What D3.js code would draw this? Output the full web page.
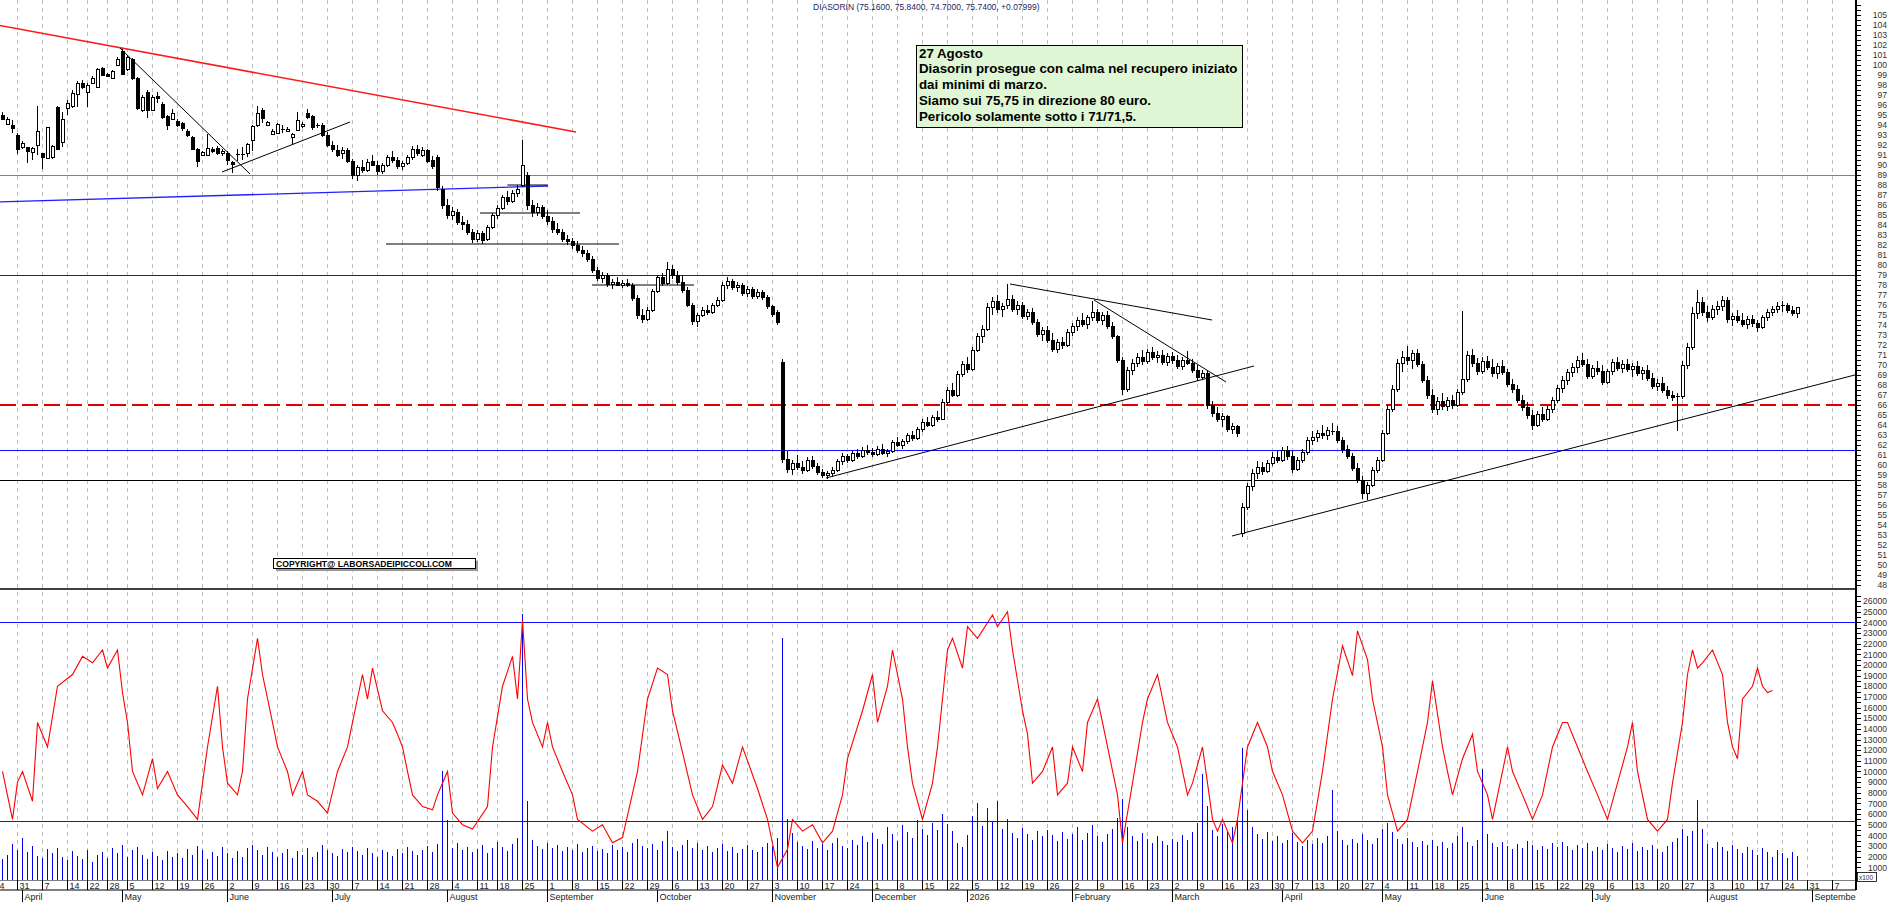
<!DOCTYPE html>
<html>
<head>
<meta charset="utf-8">
<script src="https://cdn.jsdelivr.net/npm/d3@7/dist/d3.min.js"></script>
<style>
html,body{margin:0;padding:0;background:#fff;overflow:hidden;}
svg{display:block;font-family:"Liberation Sans",Arial,Helvetica,sans-serif;}
</style>
</head>
<body>
<svg id="chart" width="1890" height="902"></svg>
<script>
// ---------------- DATA ----------------
const title = "DIASORIN (75.1600, 75.8400, 74.7000, 75.7400, +0.07999)";
const noteLines = [
  "27 Agosto",
  "Diasorin prosegue con calma nel recupero iniziato",
  "dai minimi di marzo.",
  "Siamo sui 75,75 in direzione 80 euro.",
  "Pericolo solamente sotto i 71/71,5."
];
const copyrightText = "COPYRIGHT@ LABORSADEIPICCOLI.COM";
const volumeUnitLabel = "x100";

const holidays = ["2025-04-18","2025-04-21","2025-05-01","2025-08-15","2025-12-24","2025-12-25","2025-12-26","2025-12-31","2026-01-01","2026-04-03","2026-04-06","2026-05-01"];
const calendarStart = "2025-03-24";
const calendarEnd = "2026-09-11";
const firstDataDate = "2025-03-26";
const monthNames = ["January","February","March","April","May","June","July","August","September","October","November","December"];

const opens = [
95.0,94.1,94.0,93.0,91.8,91.8,91.3,92.0,91.2,90.7,
90.8,95.8,92.3,95.7,95.9,97.1,98.2,97.3,98.2,97.8,
99.7,99.1,98.7,100.0,101.4,99.6,100.6,98.7,95.5,97.3,
95.5,96.9,96.1,94.9,94.6,94.4,94.2,93.4,92.8,91.6,
91.0,91.0,91.6,91.7,91.2,91.2,90.3,91.1,91.1,91.2,
92.5,94.0,95.5,94.0,93.1,93.2,93.6,93.4,92.8,93.5,
93.9,95.2,94.9,94.0,94.0,93.0,92.0,91.5,91.2,91.5,
90.4,89.0,89.8,89.5,90.4,90.0,89.4,90.0,90.8,90.5,
89.9,90.2,90.8,91.6,91.0,91.5,90.5,90.8,87.6,86.0,
85.0,85.3,84.3,84.1,83.3,82.6,83.2,82.6,83.8,85.0,
85.7,86.8,86.4,87.2,88.0,89.0,86.0,85.3,85.8,84.9,
84.4,83.6,83.3,82.6,82.4,82.0,81.5,81.2,80.6,79.5,
78.7,79.0,78.1,78.3,78.0,78.2,78.0,76.7,75.0,74.6,
75.5,77.4,78.8,78.2,79.6,79.0,78.3,77.5,76.0,74.4,
75.0,75.5,75.3,76.0,76.5,78.0,78.4,77.8,78.0,77.2,
77.6,76.9,77.3,76.8,75.9,75.3,70.3,60.6,59.6,60.2,
59.8,59.5,60.5,59.9,59.3,59.0,59.2,59.5,60.4,60.9,
60.5,61.2,60.9,61.5,61.3,61.1,61.6,61.2,61.4,62.3,
62.0,62.4,63.0,62.7,63.6,64.3,64.0,64.8,64.6,66.3,
67.5,67.0,69.1,70.1,69.6,71.5,72.9,73.6,75.8,76.4,
75.6,76.0,76.6,75.6,76.0,74.9,75.3,74.3,73.1,73.5,
72.5,71.6,72.3,72.0,73.3,73.9,74.5,74.1,74.8,75.3,
74.5,75.0,73.9,72.9,70.5,67.6,69.5,70.2,70.8,70.4,
71.3,70.8,71.0,70.3,70.9,70.5,69.9,70.5,70.2,69.5,
68.8,69.2,66.0,65.2,64.6,64.9,63.6,63.9,53.2,55.8,
57.9,59.2,59.8,59.4,60.2,60.8,60.5,61.5,60.9,59.6,
60.5,61.3,62.5,62.8,63.2,63.0,63.5,63.4,62.5,61.6,
60.9,59.7,58.5,57.2,58.0,59.5,60.5,63.2,65.6,67.6,
70.2,70.8,70.5,71.2,70.1,68.5,67.0,65.6,66.4,65.9,
66.5,66.0,67.3,68.6,71.0,70.2,69.4,70.4,69.8,69.2,
69.9,69.3,68.1,67.6,66.5,65.8,65.0,64.0,65.1,64.6,
65.6,66.5,67.7,68.5,69.3,69.8,70.5,70.1,68.9,69.7,
69.4,68.3,69.4,70.3,69.7,70.1,69.6,69.9,69.2,69.5,
68.7,67.9,68.2,67.5,67.0,66.8,66.9,70.0,71.8,75.2,
76.3,75.3,74.8,75.6,75.9,76.5,74.6,74.9,74.5,74.1,
74.6,74.2,73.8,74.8,75.3,75.6,75.9,76.0,75.5,75.16
];
const highs = [
95.3,94.8,94.5,93.2,92.4,91.8,91.8,95.9,91.2,93.8,
92.0,95.9,95.3,96.5,97.5,98.4,98.5,98.2,98.9,99.7,
99.8,99.2,99.5,100.8,101.6,101.0,100.7,98.8,97.0,97.5,
97.0,97.3,96.3,95.0,95.6,94.6,94.3,93.6,92.9,91.7,
91.4,93.1,91.8,91.9,91.6,91.4,90.4,91.6,91.8,92.2,
94.0,95.9,95.7,94.4,93.6,94.2,94.0,93.8,93.2,95.3,
94.3,95.6,95.0,94.2,94.2,93.3,92.4,92.0,91.8,91.7,
90.6,90.0,90.5,90.6,91.0,90.4,90.2,91.0,91.4,90.8,
90.4,91.0,91.9,92.0,91.8,91.6,90.9,91.0,87.9,86.6,
85.8,85.6,84.9,84.5,83.6,83.5,83.4,84.0,85.2,86.0,
87.0,87.4,87.5,88.0,92.5,89.3,86.5,86.2,86.0,85.5,
84.8,84.2,83.6,83.0,82.7,82.4,81.9,81.5,80.9,79.8,
79.3,79.2,78.6,78.8,78.5,78.6,78.2,77.0,75.6,75.8,
77.6,79.0,79.2,80.3,80.0,79.4,78.9,77.8,76.2,75.2,
75.8,76.0,76.2,76.8,78.3,78.8,78.6,78.3,78.2,77.9,
77.8,77.6,77.5,77.0,76.0,75.5,70.6,61.4,60.5,61.0,
60.4,60.8,60.9,60.2,59.6,59.4,59.8,60.6,61.2,61.1,
61.4,61.6,61.8,62.0,61.7,61.9,62.1,61.6,62.5,62.8,
62.6,63.2,63.4,63.8,64.6,64.8,65.0,65.4,66.6,67.8,
68.2,69.4,70.4,70.8,71.8,73.2,74.0,76.2,76.8,77.0,
76.2,78.1,77.0,76.4,76.3,75.6,75.7,74.6,73.8,73.9,
73.2,72.6,72.8,73.6,74.2,74.8,75.2,75.0,76.4,75.6,
75.3,75.4,74.3,73.0,70.8,69.8,70.6,71.2,71.5,71.6,
71.8,71.4,71.5,71.2,71.3,71.0,70.8,71.4,70.6,70.0,
69.5,69.4,66.4,65.8,65.2,65.0,64.2,64.0,56.2,58.2,
59.6,60.4,60.3,60.5,61.3,61.5,61.8,61.9,61.4,60.8,
61.6,62.8,63.4,63.5,64.0,63.8,64.2,63.9,62.8,62.0,
61.2,60.2,58.9,58.3,59.8,60.8,63.5,66.0,68.0,70.6,
71.4,71.9,71.5,71.6,70.4,68.9,67.6,66.8,67.2,66.8,
67.0,67.6,75.4,71.4,71.6,70.7,70.8,70.9,70.6,70.2,
70.5,69.6,68.6,68.0,67.0,66.3,65.5,65.4,65.8,65.9,
66.8,68.0,68.9,69.6,70.2,70.9,71.2,70.6,70.0,70.4,
70.0,69.6,70.6,70.8,70.5,70.6,70.2,70.4,69.8,70.0,
69.2,68.6,68.8,67.9,67.4,67.2,70.4,72.2,75.8,77.5,
76.8,75.9,76.0,76.4,76.9,76.8,75.2,75.5,75.2,74.9,
75.0,74.5,75.0,75.6,75.9,76.3,76.4,76.2,75.9,75.84
];
const lows = [
94.5,94.0,93.2,91.1,91.6,90.2,90.5,91.0,89.6,90.7,
90.6,91.6,91.8,95.0,95.7,95.8,97.6,95.8,98.1,97.8,
98.9,98.8,98.6,99.9,99.0,99.4,98.5,95.5,95.3,94.7,
95.4,96.2,94.6,93.5,94.5,93.8,93.4,92.8,91.5,89.8,
90.9,90.9,91.2,91.0,90.9,90.0,89.2,90.4,90.5,90.8,
91.4,93.8,94.2,93.9,93.0,93.1,93.2,93.3,92.0,93.4,
93.7,94.6,93.5,93.7,92.8,91.8,91.3,90.8,90.6,90.2,
88.6,88.4,89.2,89.3,89.9,89.0,89.1,89.8,90.2,89.6,
89.5,90.0,90.5,90.9,90.8,90.2,89.6,87.4,85.6,84.6,
84.5,84.0,83.5,83.0,82.2,82.3,82.1,82.4,83.6,84.6,
85.5,86.0,86.2,86.8,87.8,85.5,84.8,84.9,84.6,84.0,
83.2,83.0,82.3,82.0,81.6,81.2,80.8,80.3,79.2,78.4,
78.2,77.8,77.6,77.9,77.7,77.8,76.4,74.6,74.2,74.4,
75.3,77.2,77.9,78.0,78.6,78.0,77.2,75.8,74.0,73.8,
74.8,75.0,75.1,75.8,76.3,77.6,77.5,77.3,76.9,76.8,
76.6,76.6,76.5,75.6,74.8,74.0,60.2,59.2,59.0,59.5,
59.1,59.3,59.6,59.0,58.7,58.6,58.8,59.3,60.0,60.2,
60.3,60.6,60.7,61.0,60.8,60.9,61.0,60.8,61.2,61.8,
61.6,62.1,62.4,62.5,63.3,63.8,63.8,64.3,64.5,66.0,
66.8,66.8,68.8,69.2,69.4,71.3,72.2,73.4,75.0,75.2,
74.8,75.6,75.3,75.0,74.6,74.5,74.0,72.8,72.4,72.2,
71.3,71.2,71.6,71.8,72.9,73.4,73.8,73.6,74.4,74.2,
74.0,73.6,72.6,70.2,67.0,67.3,69.0,69.8,70.0,70.1,
70.5,70.2,70.0,69.9,70.1,69.6,69.5,70.0,69.2,68.4,
68.5,65.6,64.8,64.3,63.8,63.3,63.1,62.8,52.8,55.5,
57.4,58.6,59.0,59.2,59.9,60.2,60.3,60.5,59.2,59.4,
60.2,61.0,62.0,62.3,62.6,62.5,63.0,62.2,61.2,60.6,
59.4,58.2,56.6,56.5,57.8,59.2,60.3,63.0,65.3,67.3,
69.3,70.0,69.6,69.8,68.2,66.6,65.2,65.0,65.5,65.4,
65.6,65.8,67.0,68.3,69.8,69.0,69.1,69.5,68.8,68.6,
69.0,67.8,67.2,66.2,65.4,64.6,63.5,63.8,64.3,64.4,
65.2,66.2,67.2,68.0,68.8,69.2,69.8,68.6,68.6,69.0,
68.0,68.1,69.0,69.4,69.2,69.3,68.8,68.9,68.5,68.4,
67.6,67.4,67.2,66.6,66.4,63.4,66.6,69.6,71.5,74.6,
74.9,74.3,74.5,75.0,75.4,74.2,73.9,74.2,73.8,73.6,
73.8,73.3,73.6,74.4,74.9,75.2,75.3,75.2,74.9,74.70
];
const closes = [
94.6,94.6,93.7,91.6,92.2,91.4,91.7,93.4,90.8,93.8,
91.9,91.6,94.6,96.2,97.2,98.2,97.8,98.0,98.7,99.6,
99.0,98.9,99.4,100.6,99.1,100.8,98.7,95.7,96.8,95.5,
96.8,96.7,94.8,94.0,95.2,94.0,93.7,93.0,91.6,90.4,
91.3,91.7,91.4,91.2,91.4,90.5,90.1,91.1,91.1,92.1,
93.9,95.2,94.7,94.3,93.4,94.1,93.6,93.6,93.1,94.5,
94.1,94.8,93.8,94.0,93.0,92.0,91.6,91.0,91.5,90.4,
89.0,89.8,89.5,90.3,90.0,89.4,90.0,90.8,90.5,89.9,
90.2,90.8,91.6,91.2,91.5,90.4,89.9,87.8,86.0,85.0,
85.4,84.3,84.1,83.3,82.6,83.2,82.5,83.8,85.0,85.7,
86.8,86.4,87.2,87.6,90.0,86.0,85.3,85.8,84.9,84.4,
83.6,83.3,82.6,82.4,82.0,81.5,81.2,80.6,79.5,78.7,
79.0,78.1,78.3,78.0,78.2,78.0,76.7,75.0,74.6,75.5,
77.4,78.8,78.2,79.6,79.0,78.3,77.5,76.0,74.4,75.0,
75.5,75.3,76.0,76.5,78.0,78.4,77.8,78.0,77.2,77.6,
76.9,77.3,76.8,75.9,75.1,74.3,60.6,59.6,60.2,59.8,
59.5,60.5,59.9,59.3,59.0,59.2,59.5,60.4,60.9,60.5,
61.2,60.9,61.5,61.3,61.1,61.6,61.2,61.4,62.3,62.0,
62.4,63.0,62.7,63.6,64.3,64.0,64.8,64.6,66.3,67.5,
67.0,69.1,70.1,69.6,71.5,72.9,73.6,75.8,76.4,75.6,
75.9,76.6,75.6,76.0,74.9,75.3,74.3,73.1,73.5,72.5,
71.6,72.3,72.0,73.3,73.9,74.5,74.1,74.8,75.3,74.5,
75.0,73.9,72.9,70.5,67.6,69.5,70.2,70.8,70.4,71.3,
70.8,71.0,70.3,70.9,70.5,69.9,70.5,70.2,69.5,68.8,
69.2,66.0,65.2,64.6,64.9,63.6,63.9,63.2,55.8,57.9,
59.2,59.8,59.4,60.2,60.8,60.5,61.5,60.9,59.6,60.5,
61.3,62.5,62.8,63.2,63.0,63.5,63.4,62.5,61.6,60.9,
59.7,58.5,57.2,58.0,59.5,60.5,63.2,65.6,67.6,70.2,
70.8,70.5,71.2,70.1,68.5,67.0,65.6,66.4,65.9,66.5,
66.0,67.3,68.6,71.0,70.2,69.4,70.4,69.8,69.2,69.9,
69.3,68.1,67.6,66.5,65.8,65.0,64.0,65.1,64.6,65.6,
66.5,67.7,68.5,69.3,69.8,70.5,70.1,68.9,69.7,69.4,
68.3,69.4,70.3,69.7,70.1,69.6,69.9,69.2,69.5,68.7,
67.9,68.2,67.5,67.0,66.8,66.9,70.0,71.8,75.2,76.3,
75.3,74.8,75.6,75.9,76.5,74.6,74.9,74.5,74.1,74.6,
74.2,73.8,74.8,75.3,75.6,75.9,76.0,75.5,75.2,75.74
];
const volumes = [
1800,2200,3200,2600,3800,2400,3000,2100,1900,2700,
2300,2800,2000,1700,2500,2100,1800,2600,1500,2200,
2400,1900,2800,2300,3100,2000,2600,2900,2200,1800,
2400,2100,1700,2500,2000,2300,1900,2700,2200,3000,
2600,1800,2400,2100,2900,2300,1900,2500,2000,2800,
3100,2600,2200,2900,2400,2000,2300,2700,1900,2500,
2200,2800,2000,2400,3100,2600,2300,2100,2700,2400,
2900,2500,2200,2800,2300,2000,2600,2400,2100,2700,
2300,2900,2500,2200,2600,3000,2400,3200,10000,5400,
2800,3300,2600,2900,2400,2700,3100,2300,2800,3400,
2900,2500,3200,3800,24800,7200,3600,3000,2700,3300,
2800,3100,2500,2900,2600,3200,2400,2800,3000,2500,
2700,2300,3100,2600,2900,2400,3300,3700,3000,2800,
3200,2600,3500,4400,2900,2500,3100,3600,2800,3300,
2600,3000,2400,2800,3200,2500,2900,2300,2700,3100,
2600,2400,2900,3300,3000,3800,22500,5500,4200,3400,
3000,2700,3500,2800,3200,2600,3300,3800,3000,2800,
3600,3100,3900,3400,4200,3700,3200,4800,4100,3500,
5000,4300,3800,5400,4600,4000,5200,4500,6000,5100,
4400,3300,2900,4000,5800,7000,4900,6600,5300,7200,
4600,5500,4200,3800,4700,4100,3600,4400,3900,4500,
4000,3500,4300,3700,4100,4800,3600,4200,5000,3900,
3400,4100,4600,5600,7400,4800,3900,3500,4200,3700,
3300,3900,3500,3100,3700,3400,4000,3600,4300,5200,
9800,6800,4500,3900,5100,4300,4800,5600,12200,6400,
4800,4100,3700,4300,3500,3900,3300,3600,4200,3400,
3000,3600,3200,3800,3300,3900,8300,4400,3600,3100,
3700,3300,4100,3600,3200,3800,4600,5200,4300,3700,
3200,3800,3400,2900,3500,3100,3600,3000,3400,2800,
3300,3900,4800,3400,3000,3600,10200,4100,3300,2900,
3400,3000,2700,3200,2800,3500,3100,2600,3000,2700,
3300,2900,3400,3000,2600,3100,2800,3300,2500,2900,
2600,3200,2800,2400,3000,2700,3300,2500,2900,2600,
3100,2700,2400,3000,3400,3800,4600,3900,4400,7300,
4600,3200,2800,3400,2900,2500,3100,2700,2300,2900,
2600,2200,2800,2400,2000,2600,2300,1900,2400,2100
];
// red oscillator, read at sessions counted from firstDataDate
const oscDay = [0,2,3,4,6,7,9,11,14,16,18,20,21,23,24,25,26,28,30,31,33,35,37,39,41,43,44,45,47,48,49,51,52,54,55,57,58,60,61,63,65,67,69,70,72,73,74,76,78,79,80,81,82,84,86,87,89,90,92,94,97,98,100,102,103,104,105,106,108,109,110,112,114,115,118,120,122,124,127,129,131,133,134,136,138,140,142,144,146,148,151,153,155,157,158,160,162,164,166,168,169,172,174,175,177,178,180,181,182,184,186,187,188,189,190,192,193,195,198,199,201,202,204,205,206,208,210,211,213,214,216,217,219,220,223,224,226,228,229,231,233,235,237,238,240,241,242,243,244,246,247,248,249,251,253,254,256,258,260,262,264,266,268,270,271,273,274,276,277,279,281,283,285,286,288,289,290,292,294,295,297,298,300,301,302,304,306,308,310,312,313,315,317,319,321,323,325,326,327,329,331,333,334,336,337,338,339,340,342,344,345,346,347,348,350,351,352,353,354];
const oscValue = [10000,5500,9000,10000,7200,14600,12300,18000,19100,20800,20200,21400,19700,21400,17400,14600,10000,7800,11200,8400,10000,7800,6700,5500,12300,18000,12300,8900,7800,10000,16800,22500,19100,14600,12300,10000,7800,10000,7800,7200,6100,10000,12300,14600,19100,16800,19700,15700,14600,13500,12300,10000,7800,6700,6400,7800,10000,6100,5000,4600,6700,12300,18000,20800,16800,24200,16800,14600,12300,14600,12300,10000,7800,5500,4400,5000,3300,3800,10000,16800,19700,19100,15700,11800,7800,5500,6700,10600,8900,12300,8400,5500,1000,2700,5500,4400,5000,3300,4400,7800,11200,15700,19100,14600,18000,21400,16800,12300,8900,5500,8900,12300,16800,21400,22500,19700,23600,22500,24700,23600,25000,21400,15700,13500,8900,10000,12300,7800,8900,12300,10000,14600,16800,14600,7800,3300,8900,14600,16800,19100,14600,12300,7800,8900,12300,8900,5500,4400,5500,3300,5500,8900,12300,14600,12300,10000,7800,4400,3300,4400,10000,16800,21800,19000,23200,20500,16800,12300,7800,4400,5500,10000,14600,18500,12300,10000,7800,11200,13500,10000,7800,5500,10000,12300,10000,7800,5500,7800,12300,14600,14600,12300,10000,7800,5500,8900,12300,14600,10000,5500,4400,5500,8900,14600,19100,21400,19700,20200,21400,19100,14600,12300,11200,16800,18000,19700,18000,17400,17600];

const greenLevels = [89];
const blueLevels = [79, 61.5];
const redDashedLevels = [66];
const blackLevels = [58.5];
const volumeLevels = [24000, 5300];
// trend lines: [startSession, startPrice, endSession, endPrice] (sessions from firstDataDate)
const redTrends = [[-1, 104.0, 114.7, 93.3]];
const blueTrends = [[-1, 86.3, 109.1, 87.9]];
const blackTrends = [
  [23.5, 101.7, 49.5, 89.1],
  [43.9, 89.3, 69.5, 94.3],
  [101, 88.0, 109, 88.0],
  [95.5, 85.2, 115.5, 85.2],
  [76.7, 82.1, 123.3, 82.1],
  [117.9, 78.0, 138.3, 78.0],
  [164.7, 58.7, 250.3, 69.9],
  [201.5, 78.1, 241.9, 74.5],
  [218.3, 76.5, 244.7, 68.3],
  [245.9, 52.9, 372, 69.2]
];
const priceLabels = d3.range(48, 106, 1);
const priceMinorTicks = d3.range(47.5, 106.6, 0.5);
const volumeLabels = d3.range(1000, 26001, 1000);
const volumeMinorTicks = d3.range(500, 27001, 500);

// ---------------- LAYOUT ----------------
const W = 1890, H = 902;
const plotRight = 1856;
const sepY = 589, volBottom = 880, dayRowBottom = 890;
const svg = d3.select("#chart");

const parse = d3.utcParse("%Y-%m-%d"), fmt = d3.utcFormat("%Y-%m-%d");
const hol = new Set(holidays);
const sessions = d3.utcDays(parse(calendarStart), d3.utcDay.offset(parse(calendarEnd), 1))
  .filter(d => { const w = d.getUTCDay(); return w > 0 && w < 6 && !hol.has(fmt(d)); });
const first = sessions.findIndex(d => fmt(d) === firstDataDate);

const dayW = 5;
const x = d3.scaleLinear().domain([0, sessions.length - 1]).range([-7.5, -7.5 + dayW * (sessions.length - 1)]);
const xd = s => x(first + s);
const y = d3.scaleLinear().domain([48, 105]).range([585, 15]);
const yv = d3.scaleLinear().domain([0, 26000]).range([878, 601]);

const defs = svg.append("defs");
defs.append("clipPath").attr("id", "clipTop").append("rect").attr("x", 0).attr("y", 0).attr("width", plotRight).attr("height", sepY);
defs.append("clipPath").attr("id", "clipVol").append("rect").attr("x", 0).attr("y", sepY).attr("width", plotRight).attr("height", volBottom - sepY);
defs.append("clipPath").attr("id", "clipAxis").append("rect").attr("x", 0).attr("y", volBottom).attr("width", plotRight).attr("height", H - volBottom);

// week & month marks
const weekMarks = [], monthMarks = [];
let lastWeek = -100;
sessions.forEach((d, i) => {
  const prev = sessions[i - 1];
  if (!prev || d3.utcMonday.floor(d).getTime() !== d3.utcMonday.floor(prev).getTime()) {
    if (i - lastWeek >= 3) { weekMarks.push(i); lastWeek = i; }
  }
  if (prev && d.getUTCMonth() !== prev.getUTCMonth()) monthMarks.push(i);
});

// grid
svg.append("g").selectAll("line").data(weekMarks).join("line")
  .attr("x1", i => x(i)).attr("x2", i => x(i)).attr("y1", 0).attr("y2", volBottom)
  .attr("stroke", "#bcbcbc").attr("stroke-dasharray", "4,4").attr("stroke-width", 1)
  .attr("shape-rendering", "crispEdges");

// ---------- top panel ----------
const topG = svg.append("g").attr("clip-path", "url(#clipTop)");
function levels(g, vals, color, dash, w) {
  g.append("g").selectAll("line").data(vals).join("line")
    .attr("x1", 0).attr("x2", plotRight).attr("y1", d => y(d)).attr("y2", d => y(d))
    .attr("stroke", color).attr("stroke-width", w).attr("stroke-dasharray", dash)
    .attr("shape-rendering", "crispEdges");
}
levels(topG, greenLevels, "#3cb43c", null, 1);
levels(topG, blueLevels, "#1010ff", null, 1);
levels(topG, redDashedLevels, "#e00000", "16,6", 1.3);
levels(topG, blackLevels, "#000", null, 1);

function trends(g, arr, color, w) {
  g.append("g").selectAll("line").data(arr).join("line")
    .attr("x1", d => xd(d[0])).attr("y1", d => y(d[1]))
    .attr("x2", d => xd(d[2])).attr("y2", d => y(d[3]))
    .attr("stroke", color).attr("stroke-width", w);
}
trends(topG, blueTrends, "#2020ff", 1.3);
trends(topG, redTrends, "#ff1a1a", 1.6);
trends(topG, blackTrends, "#000", 1);

// candles
const idx = d3.range(opens.length);
const cg = topG.append("g").attr("shape-rendering", "crispEdges");
cg.selectAll("line.w").data(idx).join("line").attr("class", "w")
  .attr("x1", i => xd(i)).attr("x2", i => xd(i))
  .attr("y1", i => y(highs[i])).attr("y2", i => y(lows[i]))
  .attr("stroke", "#000").attr("stroke-width", 1);
cg.selectAll("rect").data(idx.filter(i => Math.abs(closes[i] - opens[i]) >= 0.15)).join("rect")
  .attr("x", i => xd(i) - 1.5).attr("width", 3)
  .attr("y", i => y(Math.max(opens[i], closes[i])))
  .attr("height", i => Math.max(1, y(Math.min(opens[i], closes[i])) - y(Math.max(opens[i], closes[i]))))
  .attr("fill", i => closes[i] < opens[i] ? "#000" : "#fff")
  .attr("stroke", "#000").attr("stroke-width", 1);
cg.selectAll("line.d").data(idx.filter(i => Math.abs(closes[i] - opens[i]) < 0.15)).join("line").attr("class", "d")
  .attr("x1", i => xd(i) - 2).attr("x2", i => xd(i) + 2)
  .attr("y1", i => y(closes[i])).attr("y2", i => y(closes[i]))
  .attr("stroke", "#000").attr("stroke-width", 1);

// title
svg.append("text").attr("x", 813).attr("y", 10).attr("font-size", "8.5px").attr("fill", "#1f1f5f").text(title);

// note box
const nb = svg.append("g");
nb.append("rect").attr("x", 916.5).attr("y", 45.5).attr("width", 326).attr("height", 82)
  .attr("fill", "#dff7d4").attr("stroke", "#000").attr("stroke-width", 1);
nb.selectAll("text").data(noteLines).join("text")
  .attr("x", 919).attr("y", (d, i) => 57.5 + i * 15.9)
  .attr("font-weight", "bold").attr("font-size", "13.3px").attr("fill", "#000").text(d => d);

// copyright
const cp = svg.append("g");
cp.append("rect").attr("x", 276).attr("y", 561).attr("width", 202).attr("height", 10).attr("fill", "#9a9a9a");
cp.append("rect").attr("x", 273.5).attr("y", 558.5).attr("width", 202).attr("height", 10).attr("fill", "#fff").attr("stroke", "#000");
cp.append("text").attr("x", 276).attr("y", 566.8).attr("font-size", "8.6px").attr("font-weight", "bold").text(copyrightText);

// ---------- volume panel ----------
const volG = svg.append("g").attr("clip-path", "url(#clipVol)");
volG.append("g").selectAll("line").data(volumeLevels).join("line")
  .attr("x1", 0).attr("x2", plotRight).attr("y1", d => yv(d)).attr("y2", d => yv(d))
  .attr("stroke", "#1010ff").attr("stroke-width", 1).attr("shape-rendering", "crispEdges");
volG.append("g").selectAll("line").data(d3.range(volumes.length)).join("line")
  .attr("x1", i => xd(i)).attr("x2", i => xd(i))
  .attr("y1", volBottom).attr("y2", i => yv(volumes[i]))
  .attr("stroke", "#0000ee").attr("stroke-width", 1).attr("shape-rendering", "crispEdges");
const oscPts = oscDay.map((d, i) => [d, oscValue[i]]);
volG.append("path").datum(oscPts)
  .attr("d", d3.line().x(d => xd(d[0])).y(d => yv(d[1])))
  .attr("fill", "none").attr("stroke", "#ff0000").attr("stroke-width", 1.1);

// panel separator & borders
svg.append("line").attr("x1", 0).attr("x2", plotRight).attr("y1", sepY).attr("y2", sepY)
  .attr("stroke", "#000").attr("stroke-width", 1.5);
svg.append("line").attr("x1", plotRight).attr("x2", plotRight).attr("y1", 0).attr("y2", dayRowBottom)
  .attr("stroke", "#000").attr("stroke-width", 1.2).attr("shape-rendering", "crispEdges");

// right axes
const axP = svg.append("g").attr("transform", `translate(${plotRight},0)`)
  .call(d3.axisRight(y).tickValues(priceLabels).tickSize(5).tickPadding(3).tickFormat(d3.format("d")));
axP.select(".domain").remove();
axP.selectAll("text").attr("text-anchor", "end").attr("x", 31).attr("font-size", "8.6px").attr("fill", "#333")
  .attr("font-family", "'Liberation Sans',Arial,sans-serif");
const axPm = svg.append("g").attr("transform", `translate(${plotRight},0)`)
  .call(d3.axisRight(y).tickValues(priceMinorTicks.filter(v => y(v) > 0 && y(v) < sepY)).tickSize(5).tickFormat(""));
axPm.select(".domain").remove();

const axV = svg.append("g").attr("transform", `translate(${plotRight},0)`)
  .call(d3.axisRight(yv).tickValues(volumeLabels).tickSize(5).tickPadding(3).tickFormat(d3.format("d")));
axV.select(".domain").remove();
axV.selectAll("text").attr("text-anchor", "end").attr("x", 31).attr("font-size", "8.6px").attr("fill", "#333")
  .attr("font-family", "'Liberation Sans',Arial,sans-serif");
const axVm = svg.append("g").attr("transform", `translate(${plotRight},0)`)
  .call(d3.axisRight(yv).tickValues(volumeMinorTicks.filter(v => yv(v) > sepY + 2 && yv(v) < volBottom)).tickSize(5).tickFormat(""));
axVm.select(".domain").remove();
svg.selectAll(".tick line").attr("stroke", "#000").attr("shape-rendering", "crispEdges");

// x100 unit box
svg.append("rect").attr("x", 1857.5).attr("y", 872.5).attr("width", 19).attr("height", 9).attr("fill", "#fff").attr("stroke", "#000").attr("stroke-width", 0.8);
svg.append("text").attr("x", 1859).attr("y", 879.5).attr("font-size", "6.5px").attr("fill", "#333").text(volumeUnitLabel);

// ---------- bottom calendar axis ----------
const axB = svg.append("g").attr("clip-path", "url(#clipAxis)");
axB.append("line").attr("x1", 0).attr("x2", plotRight).attr("y1", volBottom).attr("y2", volBottom).attr("stroke", "#000").attr("stroke-width", 1.2);
axB.append("line").attr("x1", 0).attr("x2", plotRight).attr("y1", dayRowBottom).attr("y2", dayRowBottom).attr("stroke", "#000").attr("stroke-width", 1.2);
axB.selectAll("line.wk").data(weekMarks).join("line").attr("class", "wk")
  .attr("x1", i => x(i)).attr("x2", i => x(i)).attr("y1", volBottom).attr("y2", dayRowBottom)
  .attr("stroke", "#000").attr("stroke-width", 1).attr("shape-rendering", "crispEdges");
axB.selectAll("text.wk").data(weekMarks).join("text").attr("class", "wk")
  .attr("x", i => x(i) + 2).attr("y", 888.5).attr("font-size", "9px").attr("fill", "#222")
  .text(i => sessions[i].getUTCDate());
axB.selectAll("line.mo").data(monthMarks).join("line").attr("class", "mo")
  .attr("x1", i => x(i)).attr("x2", i => x(i)).attr("y1", dayRowBottom).attr("y2", H)
  .attr("stroke", "#000").attr("stroke-width", 1).attr("shape-rendering", "crispEdges");
axB.selectAll("text.mo").data(monthMarks).join("text").attr("class", "mo")
  .attr("x", i => x(i) + 2).attr("y", 900).attr("font-size", "9px").attr("fill", "#222")
  .text(i => sessions[i].getUTCMonth() === 0 ? String(sessions[i].getUTCFullYear()) : monthNames[sessions[i].getUTCMonth()]);
</script>
</body>
</html>
